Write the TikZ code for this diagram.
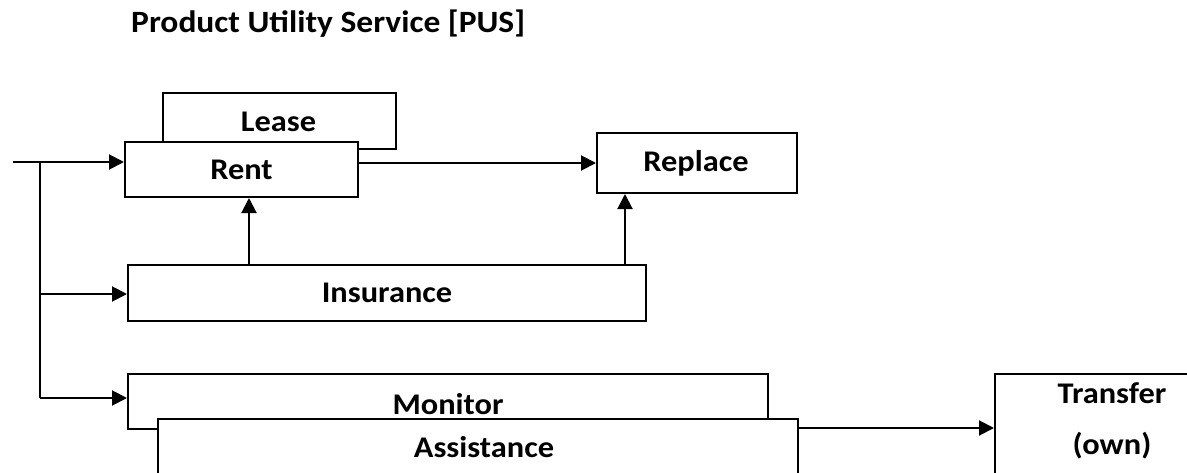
\documentclass[tikz,border=0pt]{standalone}
\usepackage{fontspec}
\setmainfont{Carlito}[FakeStretch=1.08]
\usetikzlibrary{arrows.meta}

\begin{document}
\begin{tikzpicture}[x=1pt, y=-1pt,
  txt/.style={font=\bfseries\fontsize{30}{36}\selectfont, inner sep=0pt},
  box/.style={draw=black, line width=2pt, fill=white, inner sep=0pt, txt},
  arr/.style={draw=black, line width=2pt, -{Triangle[length=15pt,width=15pt]}},
  ln/.style={draw=black, line width=2pt}]
\useasboundingbox (0,0) rectangle (1187,472);

% heading
\node[txt, font=\bfseries\fontsize{31}{37}\selectfont, anchor=base west] (title) at (131,32) {Product Utility Service [PUS]};

% upper row
\node[box, minimum width=233, minimum height=56, anchor=north west] (lease) at (162,92) {};
\node[txt] (leasetext) at (278.5,122) {Lease};
\node[box, minimum width=233, minimum height=55] (rent) at (241.5,169.5) {Rent};
\node[box, minimum width=200, minimum height=60, anchor=north west] (replace) at (596,132) {};
\node[txt] (replacetext) at (696,163) {Replace};

% middle row
\node[box, minimum width=518, minimum height=56] (insurance) at (387,293) {Insurance};

% lower row
\node[box, minimum width=640, minimum height=55, anchor=north west] (monitor) at (127,373) {};
\node[txt] (monitortext) at (448,404) {Monitor};
\node[box, minimum width=640, minimum height=60, anchor=north west] (assist) at (157,418) {};
\node[txt] (assisttext) at (484,447) {Assistance};
\node[box, minimum width=236, minimum height=130, anchor=north west] (transfer) at (994,373) {};
\node[txt, align=center] (transfertext) at (1112,421) {Transfer\\[15pt](own)};

% routing points
\coordinate (feed) at (13,162);
\coordinate (split) at (40,162);
\coordinate (splitend) at (40,398);
\coordinate (insrow) at (40,294);
\coordinate (rentrow) at (0,163);
\coordinate (upleft) at (249,0);
\coordinate (upright) at (625,0);
\coordinate (lowrow) at (0,428);

% feed line and branches
\draw[arr] (feed) -- (rent.west |- feed);
\draw[ln] (split) -- (splitend);
\draw[arr] (insrow) -- (insurance.west |- insrow);
\draw[arr] (splitend) -- (monitor.west |- splitend);

% connectors between boxes
\draw[arr] (rent.east |- rentrow) -- (replace.west |- rentrow);
\draw[arr] (insurance.north -| upleft) -- (rent.south -| upleft);
\draw[arr] (insurance.north -| upright) -- (replace.south -| upright);
\draw[arr] (assist.east |- lowrow) -- (transfer.west |- lowrow);
\end{tikzpicture}
\end{document}
